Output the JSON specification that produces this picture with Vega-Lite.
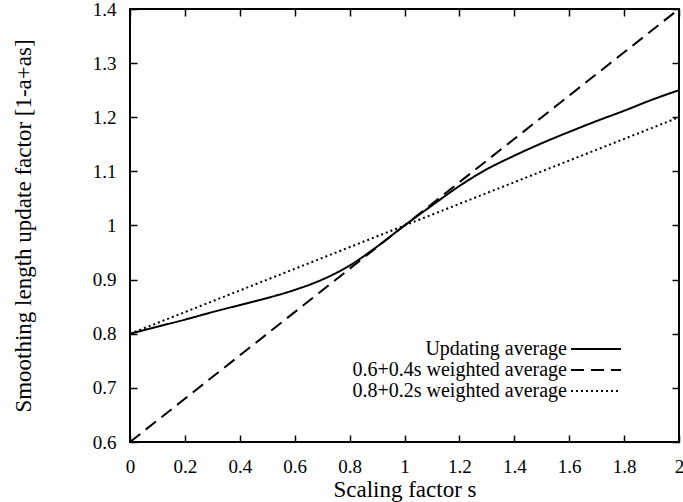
{
  "$schema": "https://vega.github.io/schema/vega-lite/v6.json",
  "width": 549,
  "height": 433,
  "autosize": {"type": "none"},
  "padding": {"left": 130, "top": 9, "right": 4, "bottom": 60},
  "background": "white",
  "config": {
    "font": "Liberation Serif",
    "view": {"stroke": "black", "strokeWidth": 2},
    "axis": {
      "grid": false,
      "domain": false,
      "tickColor": "black",
      "tickWidth": 1.5,
      "tickSize": -7,
      "labelColor": "black",
      "labelFont": "Liberation Serif",
      "labelFontSize": 19,
      "titleFont": "Liberation Serif",
      "titleFontSize": 23,
      "titleFontWeight": "normal",
      "titleColor": "black"
    },
    "legend": {
      "labelFont": "Liberation Serif",
      "labelFontSize": 20,
      "labelColor": "black"
    }
  },
  "data": {
    "values": [
      {"s": 0.0, "v": 0.8, "series": "Updating average"},
      {"s": 0.1, "v": 0.813, "series": "Updating average"},
      {"s": 0.2, "v": 0.826, "series": "Updating average"},
      {"s": 0.3, "v": 0.84, "series": "Updating average"},
      {"s": 0.4, "v": 0.853, "series": "Updating average"},
      {"s": 0.5, "v": 0.866, "series": "Updating average"},
      {"s": 0.6, "v": 0.881, "series": "Updating average"},
      {"s": 0.7, "v": 0.9, "series": "Updating average"},
      {"s": 0.8, "v": 0.926, "series": "Updating average"},
      {"s": 0.9, "v": 0.961, "series": "Updating average"},
      {"s": 1.0, "v": 1.0, "series": "Updating average"},
      {"s": 1.1, "v": 1.037, "series": "Updating average"},
      {"s": 1.2, "v": 1.073, "series": "Updating average"},
      {"s": 1.3, "v": 1.104, "series": "Updating average"},
      {"s": 1.4, "v": 1.129, "series": "Updating average"},
      {"s": 1.5, "v": 1.152, "series": "Updating average"},
      {"s": 1.6, "v": 1.173, "series": "Updating average"},
      {"s": 1.7, "v": 1.193, "series": "Updating average"},
      {"s": 1.8, "v": 1.212, "series": "Updating average"},
      {"s": 1.9, "v": 1.232, "series": "Updating average"},
      {"s": 2.0, "v": 1.25, "series": "Updating average"},
      {"s": 0.0, "v": 0.6, "series": "0.6+0.4s weighted average"},
      {"s": 1.0, "v": 1.0, "series": "0.6+0.4s weighted average"},
      {"s": 2.0, "v": 1.4, "series": "0.6+0.4s weighted average"},
      {"s": 0.0, "v": 0.8, "series": "0.8+0.2s weighted average"},
      {"s": 1.0, "v": 1.0, "series": "0.8+0.2s weighted average"},
      {"s": 2.0, "v": 1.2, "series": "0.8+0.2s weighted average"}
    ]
  },
  "layer": [
    {
      "mark": {"type": "line", "strokeWidth": 2, "color": "black", "clip": true, "interpolate": "monotone"},
      "encoding": {
        "x": {
          "field": "s", "type": "quantitative",
          "scale": {"domain": [0, 2], "nice": false},
          "axis": {"orient": "bottom", "values": [0, 0.2, 0.4, 0.6, 0.8, 1, 1.2, 1.4, 1.6, 1.8, 2], "format": "~g", "labelPadding": 22, "title": "Scaling factor s", "titlePadding": 2, "labelFlush": false}
        },
        "y": {
          "field": "v", "type": "quantitative",
          "scale": {"domain": [0.6, 1.4], "nice": false, "zero": false},
          "axis": {"orient": "left", "values": [0.6, 0.7, 0.8, 0.9, 1, 1.1, 1.2, 1.3, 1.4], "format": "~g", "labelPadding": 21, "title": "Smoothing length update factor [1-a+as]", "titlePadding": 57, "labelFlush": false}
        },
        "strokeDash": {
          "field": "series", "type": "nominal",
          "scale": {
            "domain": ["Updating average", "0.6+0.4s weighted average", "0.8+0.2s weighted average"],
            "range": [[1, 0], [13, 7], [2, 3]]
          },
          "legend": {
            "title": null,
            "orient": "none",
            "legendX": 455,
            "legendY": 329,
            "padding": 0,
            "symbolType": "M-2.5,0H2.5",
            "symbolSize": 400,
            "symbolStrokeWidth": 2,
            "symbolStrokeColor": "black",
            "labelAlign": "right",
            "labelOffset": -40,
            "labelBaseline": "middle",
            "rowPadding": 0,
            "labelLimit": 400
          }
        }
      }
    },
    {
      "mark": {"type": "line", "opacity": 0},
      "encoding": {
        "x": {
          "field": "s", "type": "quantitative",
          "scale": {"domain": [0, 2], "nice": false},
          "axis": {"orient": "top", "values": [0, 0.2, 0.4, 0.6, 0.8, 1, 1.2, 1.4, 1.6, 1.8, 2], "labels": false, "title": null}
        },
        "y": {
          "field": "v", "type": "quantitative",
          "scale": {"domain": [0.6, 1.4], "nice": false, "zero": false},
          "axis": {"orient": "right", "values": [0.6, 0.7, 0.8, 0.9, 1, 1.1, 1.2, 1.3, 1.4], "labels": false, "title": null}
        },
        "detail": {"field": "series"}
      }
    }
  ],
  "resolve": {"axis": {"x": "independent", "y": "independent"}}
}
